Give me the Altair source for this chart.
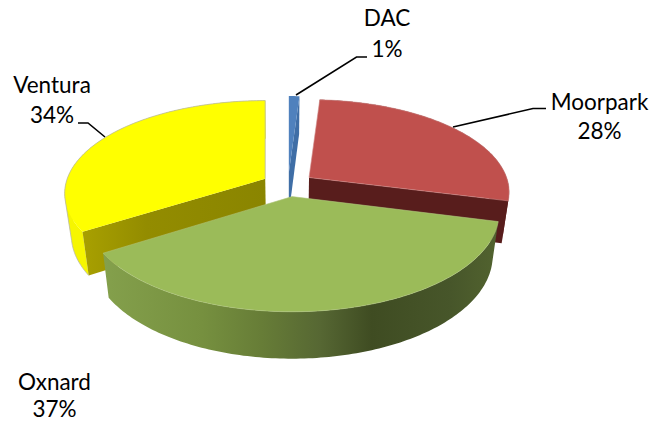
import math
import altair as alt

# Share of the total per area, listed clockwise from twelve o'clock
categories = ["DAC", "Moorpark", "Oxnard", "Ventura"]
shares = [1, 28, 37, 34]

# Perspective model of the tilted, exploded disc
CX, CY = 288.0, 184.5
RX, RY = 200.0, 92.4
PERSP = 0.16
EXPLODE = 0.13
DEPTH = 41.6
FLOOR_SHRINK = 0.97


def project(u, v, ou=0.0, low=False):
    # u is relative to the wedge's own apex; ou is its sideways explosion
    d = 1 - PERSP * v
    s = FLOOR_SHRINK if low else 1.0
    drop = DEPTH / d if low else 0.0
    return [CX + s * RX * (u / d + ou), CY + s * RY * v / d + drop]


def wedge_angles():
    start = 0.0
    out = {}
    for name, share in zip(categories, shares):
        end = start + share * 3.6
        out[name] = (start, end)
        start = end
    return out


def rim(t0, t1, ov):
    n = max(2, int(abs(t1 - t0)) + 1)
    ts = [math.radians(t0 + (t1 - t0) * i / n) for i in range(n + 1)]
    return [(math.sin(t), -math.cos(t) + ov) for t in ts]


def offset(t0, t1):
    m = math.radians((t0 + t1) / 2)
    return EXPLODE * math.sin(m), -EXPLODE * math.cos(m)


def polygon(points):
    ring = points + [points[0]]
    return {"type": "Feature", "properties": {},
            "geometry": {"type": "Polygon", "coordinates": [ring]}}


def polyline(points):
    return {"type": "Feature", "properties": {},
            "geometry": {"type": "LineString", "coordinates": points}}


def shape(feature, **mark):
    return (
        alt.Chart(alt.Data(values=[feature]))
        .mark_geoshape(**mark)
        .project(type="identity", scale=1, translate=[0, 0])
    )


def ramp(stops):
    return alt.Gradient(
        gradient="linear", x1=0, x2=1, y1=0, y2=0,
        stops=[alt.GradientStop(offset=o, color=c) for o, c in stops],
    )


def top_face(name):
    t0, t1 = ANGLES[name]
    ou, ov = offset(t0, t1)
    pts = [project(u, v, ou) for u, v in rim(t0, t1, ov)] + [project(0, ov, ou)]
    return polygon(pts)


def rim_wall(name):
    # One quad per step in a single path, all wound alike, so the fill has no seams
    t0, t1 = ANGLES[name]
    ou, ov = offset(t0, t1)
    arc = rim(t0, t1, ov)
    quads = []
    for (ua, va), (ub, vb) in zip(arc, arc[1:]):
        ring = [project(ua, va, ou), project(ub, vb, ou),
                project(ub, vb, ou, True), project(ua, va, ou, True)]
        area = sum(p[0] * q[1] - q[0] * p[1] for p, q in zip(ring, ring[1:] + ring[:1]))
        if area < 0:
            ring.reverse()
        quads.append([ring + [ring[0]]])
    return {"type": "Feature", "properties": {},
            "geometry": {"type": "MultiPolygon", "coordinates": quads}}


def cut_wall(name, edge):
    t0, t1 = ANGLES[name]
    ou, ov = offset(t0, t1)
    t = math.radians(edge)
    u, v = math.sin(t), -math.cos(t) + ov
    return polygon([project(0, ov, ou), project(u, v, ou),
                    project(u, v, ou, True), project(0, ov, ou, True)])


def silhouette(name, t_turn):
    # Floor arc up to the turning angle, then the upper rim and the closing cut
    t0, t1 = ANGLES[name]
    ou, ov = offset(t0, t1)
    pts = [project(u, v, ou, True) for u, v in rim(t0, t_turn, ov)]
    pts += [project(u, v, ou) for u, v in rim(t_turn, t1, ov)]
    pts.append(project(0, ov, ou))
    return polyline(pts)


ANGLES = wedge_angles()
EDGE = "#b9b9a8"

layers = [
    # DAC, furthest back
    shape(cut_wall("DAC", ANGLES["DAC"][1]), fill="#3f6ea6"),
    shape(top_face("DAC"), fill="#4f81bd"),
    # Moorpark
    shape(rim_wall("Moorpark"), fill="#6a2322"),
    shape(cut_wall("Moorpark", ANGLES["Moorpark"][1]), fill="#581d1c"),
    shape(top_face("Moorpark"), fill="#c0504d", stroke="#d08a88", strokeWidth=0.6),
    # Ventura: the rim blends into the yellow top
    shape(rim_wall("Ventura"), fill="#f6f600"),
    shape(cut_wall("Ventura", ANGLES["Ventura"][0]),
          fill=ramp([(0, "#a8a000"), (0.35, "#938c00"), (1, "#8a8500")])),
    shape(top_face("Ventura"), fill="#ffff00"),
    shape(silhouette("Ventura", 258), filled=False, stroke=EDGE, strokeWidth=0.8),
    # Oxnard, nearest the viewer
    shape(rim_wall("Oxnard"),
          fill=ramp([(0, "#84a04c"), (0.25, "#76903f"), (0.4, "#677d37"),
                     (0.55, "#566733"), (0.68, "#3f4c22"), (0.88, "#47562a"),
                     (1, "#52632f")])),
    shape(top_face("Oxnard"), fill="#9bbb59", stroke="#aec47c", strokeWidth=0.6),
]

# Leader lines
leaders = [
    [[296, 95], [356.5, 57], [367, 57]],
    [[453, 127], [533, 108.5], [546, 108.5]],
    [[105, 137], [88, 123], [78, 123]],
]
for line in leaders:
    layers.append(shape(polyline(line), filled=False, stroke="#000000", strokeWidth=1.6))

# Two-line labels: (centre x, name baseline, share baseline)
label_spots = {
    "DAC": (387, 26, 57),
    "Moorpark": (599.5, 110, 139),
    "Oxnard": (54.5, 390, 417),
    "Ventura": (52, 93, 123),
}
for name, share in zip(categories, shares):
    x, y_name, y_share = label_spots[name]
    for text, y in ((name, y_name), (f"{share}%", y_share)):
        layers.append(
            alt.Chart(alt.Data(values=[{"label": text}]))
            .mark_text(font="Lato", fontSize=22.5, color="#000000",
                       align="center", baseline="alphabetic")
            .encode(x=alt.value(x), y=alt.value(y), text="label:N")
        )

chart = (
    alt.layer(*layers)
    .properties(width=653, height=422, padding=0, background="#ffffff",
                autosize=alt.AutoSizeParams(type="none"))
    .configure_view(stroke=None)
)

chart.save("out.html", embed_options={"renderer": "svg", "actions": False})
